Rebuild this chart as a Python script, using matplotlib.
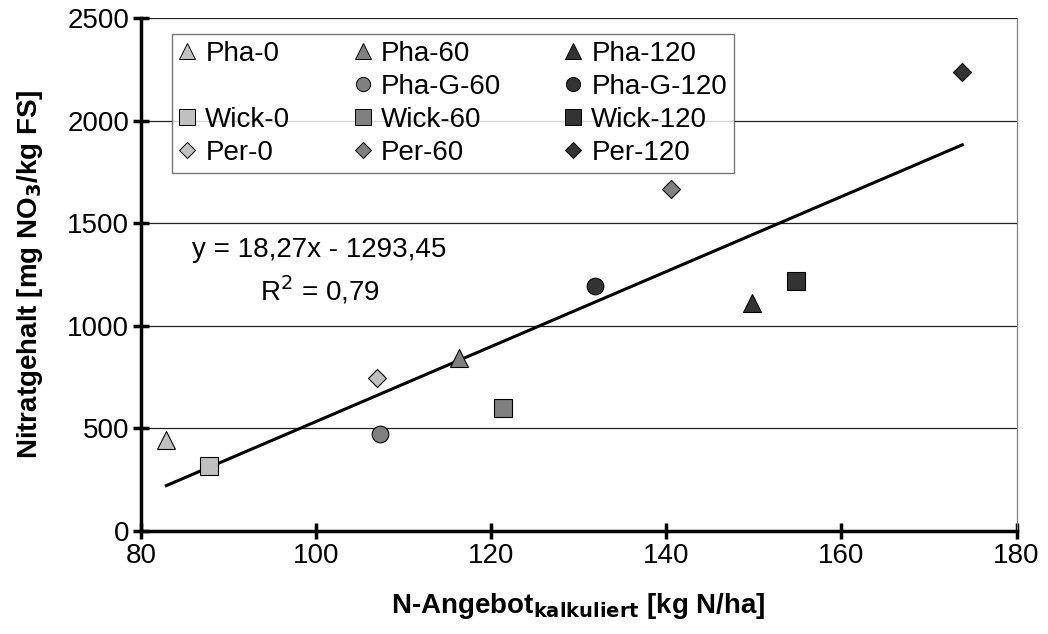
import matplotlib
matplotlib.use("Agg")
import matplotlib.pyplot as plt
from matplotlib.lines import Line2D

plt.rcParams["font.family"] = ["Liberation Sans", "DejaVu Sans"]

# data: N-Angebot (kg N/ha) vs Nitratgehalt (mg NO3/kg FS)
labels = ["Pha-0", "Pha-60", "Pha-120", "Pha-G-60", "Pha-G-120",
          "Wick-0", "Wick-60", "Wick-120", "Per-0", "Per-60", "Per-120"]
x_vals = [82.9, 116.3, 149.8, 107.3, 131.9, 87.8, 121.3, 154.8, 107.0, 140.5, 173.8]
y_vals = [445, 843, 1109, 472, 1196, 317, 598, 1220, 745, 1667, 2237]
markers = ["^", "^", "^", "o", "o", "s", "s", "s", "D", "D", "D"]
colors = ["#c0c0c0", "#808080", "#333333", "#808080", "#333333",
          "#c0c0c0", "#808080", "#333333", "#c0c0c0", "#808080", "#333333"]
sizes = [13, 13, 13, 12, 12, 13, 13, 13, 9.2, 9.2, 9.2]

slope, intercept = 18.27, -1293.45
x_ticks = [80, 100, 120, 140, 160, 180]
y_ticks = [0, 500, 1000, 1500, 2000, 2500]

FS = 20

fig = plt.figure(figsize=(10.48, 6.34), dpi=100)
ax = fig.add_axes([0.1345, 0.1625, 0.8355, 0.8091])

for yt in y_ticks[1:]:
    ax.axhline(yt, color="#222222", lw=0.9, zorder=0)

handles = {}
for lab, x, y, m, c, s in zip(labels, x_vals, y_vals, markers, colors, sizes):
    ax.plot([x], [y], marker=m, ms=s, mfc=c, mec="black", mew=0.8, ls="none", zorder=3)
    handles[lab] = Line2D([], [], marker=m, ms=s * 0.85, mfc=c, mec="black", mew=0.7, ls="none")

xl = [min(x_vals), max(x_vals)]
ax.plot(xl, [slope * v + intercept for v in xl], color="black", lw=2.2, zorder=2)

ax.text(319 / 1048, 1 - 250 / 634, "y = 18,27x - 1293,45", transform=fig.transFigure,
        fontsize=FS, va="center", ha="center")
ax.text(320 / 1048, 1 - 290 / 634, "R$^2$ = 0,79", transform=fig.transFigure,
        fontsize=FS, va="center", ha="center")

ax.set_xlim(80, 180)
ax.set_ylim(0, 2500)
ax.set_xticks(x_ticks)
ax.set_yticks(y_ticks)
ax.tick_params(direction="inout", length=11, width=2.5, labelsize=FS, pad=3)
for side in ["left", "bottom"]:
    ax.spines[side].set_linewidth(2.5)
ax.spines["top"].set_visible(False)
ax.spines["right"].set_color("#808080")
ax.spines["right"].set_linewidth(0.9)

ax.set_xlabel("N-Angebot$_{\\mathbf{kalkuliert}}$ [kg N/ha]", fontsize=FS, fontweight="bold", labelpad=16)
ax.set_ylabel("Nitratgehalt [mg NO$_\\mathbf{3}$/kg FS]", fontsize=FS, fontweight="bold")
ax.yaxis.set_label_coords(-0.11, 0.5)

blank = Line2D([], [], ls="none")
order = ["Pha-0", None, "Wick-0", "Per-0",
         "Pha-60", "Pha-G-60", "Wick-60", "Per-60",
         "Pha-120", "Pha-G-120", "Wick-120", "Per-120"]
leg_h = [handles[k] if k else blank for k in order]
leg_l = [k if k else "" for k in order]
leg = ax.legend(leg_h, leg_l, ncol=3, loc="upper left",
                bbox_to_anchor=(172 / 1048, 1 - 34 / 634), bbox_transform=fig.transFigure,
                fontsize=FS, frameon=True, fancybox=False, edgecolor="#555555",
                handlelength=0.6, handletextpad=0.35, columnspacing=2.3,
                labelspacing=0.25, borderpad=0.25, borderaxespad=0)
leg.get_frame().set_linewidth(1.0)

fig.savefig("out.png", dpi=100)
